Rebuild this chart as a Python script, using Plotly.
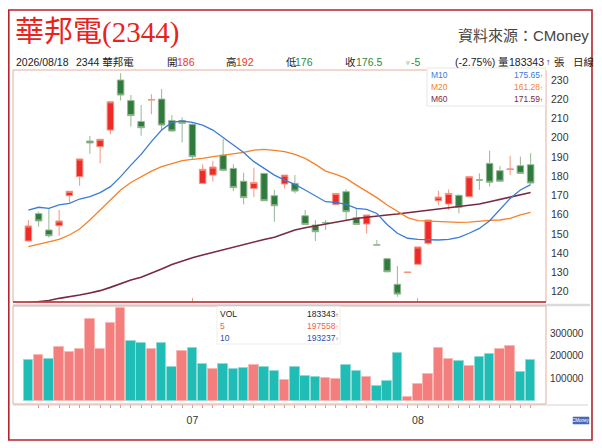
import plotly.graph_objects as go

# ---------------- data ----------------
opens = [146.4, 160.6, 152.1, 154.3, 169.9, 179.8, 198.3, 195.4, 204.0, 230.0,
         219.3, 208.5, 219.6, 220.1, 209.0, 208.9, 207.0, 176.3, 180.6, 191.0,
         184.1, 177.4, 173.7, 181.5, 169.9, 176.0, 176.3, 159.5, 154.7, 156.0,
         165.4, 172.0, 158.5, 155.2, 144.4, 137.2, 123.9, 130.0, 134.3, 145.2,
         167.3, 165.6, 170.1, 169.4, 178.2, 186.7, 182.9, 183.5, 185.5, 186.0]
highs = [157.3, 161.6, 163.3, 162.5, 172.2, 189.0, 200.9, 199.2, 218.7, 233.5,
         222.2, 217.0, 222.6, 225.3, 211.8, 210.6, 207.5, 186.2, 187.9, 199.4,
         186.2, 181.9, 184.5, 181.5, 172.9, 180.6, 180.6, 162.5, 157.3, 157.3,
         171.1, 173.2, 163.3, 159.9, 146.9, 137.7, 133.4, 130.3, 143.3, 157.3,
         172.5, 173.2, 170.6, 179.8, 181.5, 193.3, 185.3, 190.7, 190.2, 192.0]
lows = [146.0, 153.8, 148.1, 149.1, 166.3, 175.1, 191.7, 186.7, 201.8, 219.3,
        205.8, 201.1, 212.2, 204.0, 203.5, 197.6, 188.4, 176.3, 177.2, 183.1,
        172.3, 165.4, 169.2, 167.3, 156.4, 173.7, 171.1, 155.0, 146.4, 152.1,
        165.0, 157.3, 155.0, 150.3, 144.2, 130.1, 117.4, 129.9, 134.3, 144.3,
        165.1, 162.5, 160.7, 169.4, 172.9, 174.6, 177.4, 180.6, 181.5, 176.0]
closes = [154.2, 156.8, 149.1, 156.8, 172.2, 189.0, 197.3, 199.2, 218.7, 222.2,
          211.5, 205.2, 219.8, 206.6, 203.5, 207.5, 190.2, 183.6, 184.8, 183.1,
          174.1, 168.9, 176.8, 167.3, 164.7, 180.6, 172.3, 155.0, 151.2, 155.8,
          171.1, 161.6, 155.0, 159.9, 144.3, 130.4, 118.8, 130.2, 143.3, 157.3,
          169.2, 171.1, 163.9, 179.8, 178.0, 176.9, 177.4, 183.8, 181.5, 176.5]
prev_close = 156.0  # close of the day before the first visible candle

volumes = [181000, 203000, 185000, 240000, 216000, 232000, 362000, 229000, 343000, 409000,
           265000, 256000, 229000, 256000, 150000, 221000, 235000, 166000, 144000, 163000,
           144000, 149000, 162000, 150000, 135000, 96000, 153000, 110000, 106000, 104000,
           97000, 159000, 135000, 109000, 69000, 88000, 212000, 18000, 78000, 122000,
           234000, 185000, 176000, 154000, 194000, 207000, 229000, 243000, 128000, 183343]

ma10 = [162.4, 163.9, 163.3, 165.1, 165.9, 168.2, 169.4, 171.5, 174.6, 179.8,
        185.8, 191.4, 198.0, 204.0, 208.0, 208.7, 208.0, 206.6, 204.0, 200.0,
        196.2, 192.4, 187.6, 184.1, 180.6, 178.0, 175.8, 172.9, 169.9, 166.8,
        166.4, 165.4, 163.3, 162.8, 160.7, 155.0, 150.4, 147.8, 147.2, 146.9,
        146.9, 147.2, 148.3, 150.4, 152.9, 156.9, 162.5, 168.5, 172.9, 175.65]
ma20 = [143.4, 144.6, 145.8, 147.2, 149.5, 152.6, 157.3, 162.5, 167.7, 172.9,
        176.8, 179.8, 182.7, 185.0, 186.7, 188.1, 188.8, 189.3, 190.2, 191.0,
        191.9, 192.4, 193.6, 194.0, 193.5, 192.8, 191.4, 189.3, 186.2, 182.7,
        181.0, 178.9, 175.4, 172.3, 168.9, 165.1, 161.6, 158.5, 157.0, 156.8,
        156.6, 156.2, 156.1, 156.2, 156.8, 157.1, 157.3, 158.1, 159.9, 161.28]
ma60 = [114.3, 114.9, 115.5, 116.6, 117.4, 118.3, 119.4, 120.6, 122.3, 124.4,
        126.1, 127.6, 129.6, 131.8, 134.2, 136.0, 137.7, 139.1, 140.5, 142.0,
        143.4, 144.6, 146.0, 147.2, 148.3, 150.4, 152.1, 153.3, 154.3, 155.5,
        156.4, 157.3, 158.1, 158.7, 159.4, 159.9, 160.4, 161.1, 161.6, 162.5,
        163.0, 163.5, 164.2, 164.9, 165.6, 166.8, 168.0, 169.2, 170.3, 171.59]

vol_ma5 = 197558
vol_ma10 = 193237

month_labels = ["07", "08"]
month_start_idx = [16, 38]
price_ticks = [120, 130, 140, 150, 160, 170, 180, 190, 200, 210, 220, 230]
vol_ticks = [100000, 200000, 300000]

stock_name = "華邦電"
stock_code = "2344"
date_label = "2026/08/18"

# ---------------- helpers ----------------
# the page body has an 8px margin, so the figure starts at page (8, 8)
OFF = 8
W, H = 602 - OFF, 448 - OFF
SANS = "Liberation Sans, Noto Sans CJK TC, sans-serif"


def fx(p):
    return (p - OFF) / W


def fy(p):
    return 1 - (p - OFF) / H


def txt(x, y, s, size=10.5, color="#222", anchor="left", family=SANS):
    return dict(xref="paper", yref="paper", x=fx(x), y=fy(y), text=s,
                showarrow=False, xanchor=anchor, yanchor="middle",
                borderpad=0, font=dict(size=size, color=color, family=family))


x = list(range(len(closes)))
RED, GREEN = "#E8392A", "#2F8A3B"

# volume colour by change versus previous close
prevs = [prev_close] + closes[:-1]
vol_up = [c > p for c, p in zip(closes, prevs)]
vol_fill = ["#F47D7D" if u else "#1FBDB5" for u in vol_up]
vol_edge = ["#F9B9B2" if u else "#8FDAD5" for u in vol_up]

fig = go.Figure()

fig.add_trace(go.Scatter(x=x, y=ma60, mode="lines", line=dict(color="#7A2940", width=1.6),
                         hoverinfo="skip", xaxis="x", yaxis="y"))
fig.add_trace(go.Scatter(x=x, y=ma20, mode="lines", line=dict(color="#F5822A", width=1.3),
                         hoverinfo="skip", xaxis="x", yaxis="y"))
fig.add_trace(go.Scatter(x=x, y=ma10, mode="lines", line=dict(color="#3A7CD6", width=1.3),
                         hoverinfo="skip", xaxis="x", yaxis="y"))
fig.add_trace(go.Candlestick(
    x=x, open=opens, high=highs, low=lows, close=closes,
    increasing=dict(fillcolor="#EE2B2B", line=dict(color="#F3957F", width=1)),
    decreasing=dict(fillcolor="#2F7A3D", line=dict(color="#97B794", width=1)),
    whiskerwidth=0, hoverinfo="skip", xaxis="x", yaxis="y"))

fig.add_trace(go.Bar(x=x, y=volumes, width=0.94,
                     marker=dict(color=vol_fill, line=dict(color=vol_edge, width=1)),
                     hoverinfo="skip", xaxis="x2", yaxis="y2"))

xrange = [-1.5, len(x) + 0.5]
tick_text = [""] * len(x)
for idx, lab in zip(month_start_idx, month_labels):
    tick_text[idx] = lab

fig.update_layout(
    width=W, height=H, margin=dict(l=0, r=0, t=0, b=0),
    paper_bgcolor="white", plot_bgcolor="white", showlegend=False,
    boxgap=0.09, bargap=0,
    xaxis=dict(domain=[fx(13), fx(546)], range=xrange, anchor="y",
               showgrid=False, zeroline=False, showticklabels=False,
               ticks="inside", tickvals=month_start_idx, ticklen=4, tickcolor="#E3A08C",
               rangeslider=dict(visible=False), showline=False),
    yaxis=dict(domain=[fy(302), fy(70)], range=[114.7, 235.2], anchor="x", side="right",
               tickvals=price_ticks, showgrid=False, zeroline=False, ticks="",
               ticklabelstandoff=4,
               tickfont=dict(size=10.5, color="#333", family=SANS)),
    xaxis2=dict(domain=[fx(13), fx(546)], range=xrange, anchor="y2",
                showgrid=False, zeroline=False, showline=False,
                tickvals=x[1:], ticktext=tick_text[1:], ticks="outside", ticklen=3,
                tickcolor="#E3A08C", ticklabelstandoff=3,
                tickfont=dict(size=10.5, color="#333", family=SANS)),
    yaxis2=dict(domain=[fy(404), fy(306)], range=[-11000, 419000], anchor="x2", side="right",
                tickvals=vol_ticks, ticktext=[str(v) for v in vol_ticks],
                showgrid=False, zeroline=False, ticks="", ticklabelstandoff=3,
                tickfont=dict(size=10, color="#333", family=SANS)),
)

shapes = [
    # separator bands
    dict(type="line", xref="paper", yref="paper", x0=fx(13), x1=fx(590), y0=fy(305), y1=fy(305),
         line=dict(color="#DADADA", width=2.5), layer="below"),
    dict(type="line", xref="paper", yref="paper", x0=fx(13), x1=fx(588), y0=fy(405), y1=fy(405),
         line=dict(color="#E2E2E2", width=1.5), layer="below"),
    # price frame
    dict(type="rect", xref="x domain", yref="y domain", x0=0, x1=1, y0=0, y1=1,
         line=dict(color="#E6AE9C", width=1), layer="above"),
    dict(type="line", xref="x domain", yref="y domain", x0=0, x1=1, y0=0, y1=0,
         line=dict(color="#B3282D", width=1.6), layer="above"),
    # volume frame
    dict(type="rect", xref="x2 domain", yref="y2 domain", x0=0, x1=1, y0=0, y1=1,
         line=dict(color="#E6AE9C", width=1), layer="above"),
    # MA legend box
    dict(type="rect", xref="paper", yref="paper", x0=fx(427), x1=fx(545.5), y0=fy(106), y1=fy(68),
         fillcolor="white", line=dict(color="#E6E6E6", width=1), layer="above"),
    # volume legend box
    dict(type="rect", xref="paper", yref="paper", x0=fx(217), x1=fx(340), y0=fy(344), y1=fy(306.5),
         fillcolor="white", line=dict(color="#EDEDED", width=1), layer="above"),
    # outer border
    dict(type="rect", xref="paper", yref="paper", x0=fx(8.8), x1=fx(592), y0=fy(440), y1=fy(10),
         line=dict(color="#B5252B", width=1.6), layer="above"),
    # small logo
    dict(type="rect", xref="paper", yref="paper", x0=fx(573), x1=fx(589), y0=fy(424), y1=fy(417),
         fillcolor="#4A6CC0", line=dict(color="#3557A8", width=0.5), layer="above"),
]

last_o, last_h, last_l, last_c = opens[-1], highs[-1], lows[-1], closes[-1]
chg = last_c - closes[-2]
pct = chg / closes[-2] * 100


def num(v):
    return f"{v:g}"


HY = 62
anns = [
    txt(14, 33, f"{stock_name}({stock_code})", size=29, color="#E8231D",
        family="Liberation Serif, Noto Sans CJK TC, serif"),
    txt(590, 35, "資料來源：CMoney", size=15, color="#444", anchor="right"),
    txt(14.5, HY, date_label),
    txt(75, HY, f"{stock_code} {stock_name}"),
    txt(166, HY, "開"), txt(176, HY, num(last_o), color=RED),
    txt(225, HY, "高"), txt(235, HY, num(last_h), color=RED),
    txt(285, HY, "低"), txt(294, HY, num(last_l), color=GREEN),
    txt(344, HY, "收"), txt(355, HY, num(last_c), color=GREEN),
    txt(405, HY + 0.5, "▿", size=7, color=GREEN), txt(410, HY, num(chg), color=GREEN),
    txt(454, HY, f"({pct:.2f}%)"),
    txt(497, HY, "量"), txt(508, HY, f"{volumes[-1]}"),
    txt(544.5, HY, "↑", size=9), txt(553, HY, "張"),
    txt(572, HY, "日線"),
    # MA legend
    txt(430, 75, "M10", size=8.5, color="#3A7CD6"),
    txt(430, 87, "M20", size=8.5, color="#F5822A"),
    txt(430, 99, "M60", size=8.5, color="#7A2940"),
    txt(544, 75, f"{ma10[-1]:.2f}<span style='font-size:6px'>↑</span>", size=8.5, color="#3A7CD6", anchor="right"),
    txt(544, 87, f"{ma20[-1]:.2f}<span style='font-size:6px'>↑</span>", size=8.5, color="#F5822A", anchor="right"),
    txt(544, 99, f"{ma60[-1]:.2f}<span style='font-size:6px'>↑</span>", size=8.5, color="#7A2940", anchor="right"),
    # volume legend
    txt(219, 313.5, "VOL", size=8.5, color="#222"),
    txt(219, 325.5, "5", size=8.5, color="#F0634A"),
    txt(219, 337.5, "10", size=8.5, color="#2D4FA8"),
    txt(339, 313.5, f"{volumes[-1]}<span style='font-size:6px'>↑</span>", size=8.5, color="#222", anchor="right"),
    txt(339, 325.5, f"{vol_ma5}<span style='font-size:6px'>↑</span>", size=8.5, color="#F0634A", anchor="right"),
    txt(339, 337.5, f"{vol_ma10}<span style='font-size:6px'>↑</span>", size=8.5, color="#2D4FA8", anchor="right"),
    txt(581, 420.5, "CMoney", size=4.5, color="white", anchor="center"),
]

fig.update_layout(shapes=shapes, annotations=anns)
fig.write_html("out.html")
